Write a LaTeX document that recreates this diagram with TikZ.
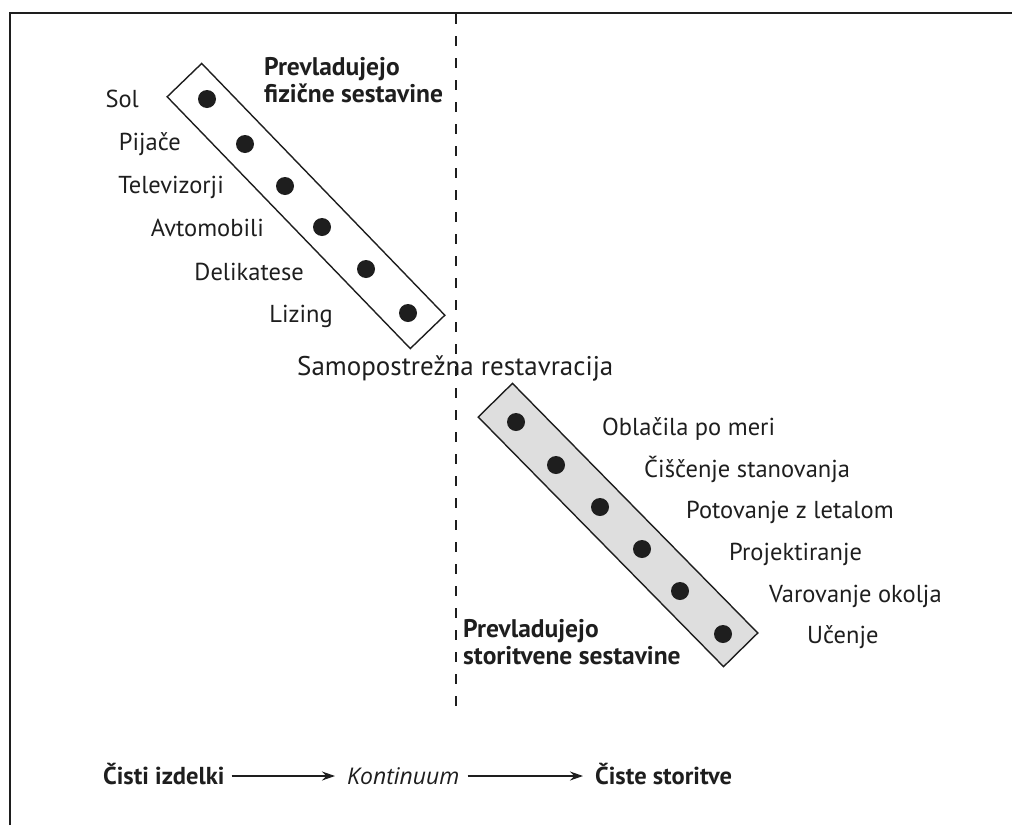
\documentclass[tikz,border=0pt]{standalone}
\usepackage{fontspec}
\setmainfont{PT Sans}
\newfontfamily\contfont{Open Sans}
\usetikzlibrary{arrows.meta}
\definecolor{ink}{HTML}{1E1E1E}
\definecolor{bandgray}{HTML}{DEDEDE}
\tikzset{
  frameline/.style={line width=2.2pt, draw=ink},
  divider/.style={line width=2.4pt, draw=ink, dash pattern=on 10pt off 12pt},
  band/.style={draw=ink, line width=1.4pt, rectangle, inner sep=0pt,
    minimum width=350pt, minimum height=48pt},
  dot/.style={circle, fill=ink, inner sep=0pt, minimum size=18pt},
  lab/.style={font=\fontsize{24.5}{28}\selectfont, text=ink, inner sep=0pt},
  head/.style={font=\fontsize{25.5}{27.5}\selectfont\bfseries, text=ink, inner sep=0pt, align=left},
  big/.style={font=\fontsize{27}{30}\selectfont, text=ink, inner sep=0pt},
  axisbold/.style={font=\fontsize{24.5}{27}\selectfont\bfseries, text=ink, inner sep=0pt},
  axisit/.style={font=\contfont\fontsize{23}{27}\selectfont\itshape, text=ink, inner sep=0pt},
  flow/.style={line width=1.5pt, draw=ink, -{Stealth[length=13pt,width=9pt]}}
}
\begin{document}
\begin{tikzpicture}[x=1pt,y=-1pt]
\useasboundingbox (0,0) rectangle (1012,825);
% frame
\coordinate (fbl) at (10,825);
\coordinate (ftl) at (10,13);
\coordinate (ftr) at (1012,13);
\draw[frameline] (fbl) -- (ftl) -- (ftr);
% divider
\coordinate (dtop) at (456,14);
\coordinate (dbot) at (456,716);
\draw[divider] (dtop) -- (dbot);
% bands
\node[band, rotate=-46] (bandA) at (306,206) {};
\node[band, fill=bandgray, rotate=-45.5] (bandB) at (618,525) {};
% dots band A
\node[dot] (a1) at (207,99) {};
\node[dot] (a2) at (245,144) {};
\node[dot] (a3) at (285,186) {};
\node[dot] (a4) at (322,227) {};
\node[dot] (a5) at (366,269) {};
\node[dot] (a6) at (408,313) {};
% dots band B
\node[dot] (b1) at (516,422) {};
\node[dot] (b2) at (556,465) {};
\node[dot] (b3) at (600,507) {};
\node[dot] (b4) at (642,549) {};
\node[dot] (b5) at (680,591) {};
\node[dot] (b6) at (723,634) {};
% left labels
\node[lab, anchor=base east] (l1) at (139,107) {Sol};
\node[lab, anchor=base east] (l2) at (181,150) {Pijače};
\node[lab, anchor=base east] (l3) at (224,193) {Televizorji};
\node[lab, anchor=base east] (l4) at (264,236) {Avtomobili};
\node[lab, anchor=base east] (l5) at (304,280) {Delikatese};
\node[lab, anchor=base east] (l6) at (333,322) {Lizing};
% right labels
\node[lab, anchor=base west] (r1) at (602,435) {Oblačila po meri};
\node[lab, anchor=base west] (r2) at (644,477) {Čiščenje stanovanja};
\node[lab, anchor=base west] (r3) at (686,518) {Potovanje z letalom};
\node[lab, anchor=base west] (r4) at (729,560) {Projektiranje};
\node[lab, anchor=base west] (r5) at (769,602) {Varovanje okolja};
\node[lab, anchor=base west] (r6) at (807,643) {Učenje};
% headings
\node[head, anchor=north west] (hA) at (264,57) {Prevladujejo\\fizične sestavine};
\node[head, anchor=north west] (hB) at (463,619) {Prevladujejo\\storitvene sestavine};
% middle
\node[big, anchor=base west] (mid) at (297,375) {Samopostrežna restavracija};
% bottom axis
\node[axisbold, anchor=base west] (pure1) at (103,784) {Čisti izdelki};
\node[axisit, anchor=base west] (cont) at (347,784) {Kontinuum};
\node[axisbold, anchor=base west] (pure2) at (595,784) {Čiste storitve};
\draw[flow] ([xshift=7pt,yshift=8pt]pure1.base east) -- ([xshift=-12pt,yshift=8pt]cont.base west);
\draw[flow] ([xshift=8pt,yshift=8pt]cont.base east) -- ([xshift=-12pt,yshift=8pt]pure2.base west);
\end{tikzpicture}
\end{document}
